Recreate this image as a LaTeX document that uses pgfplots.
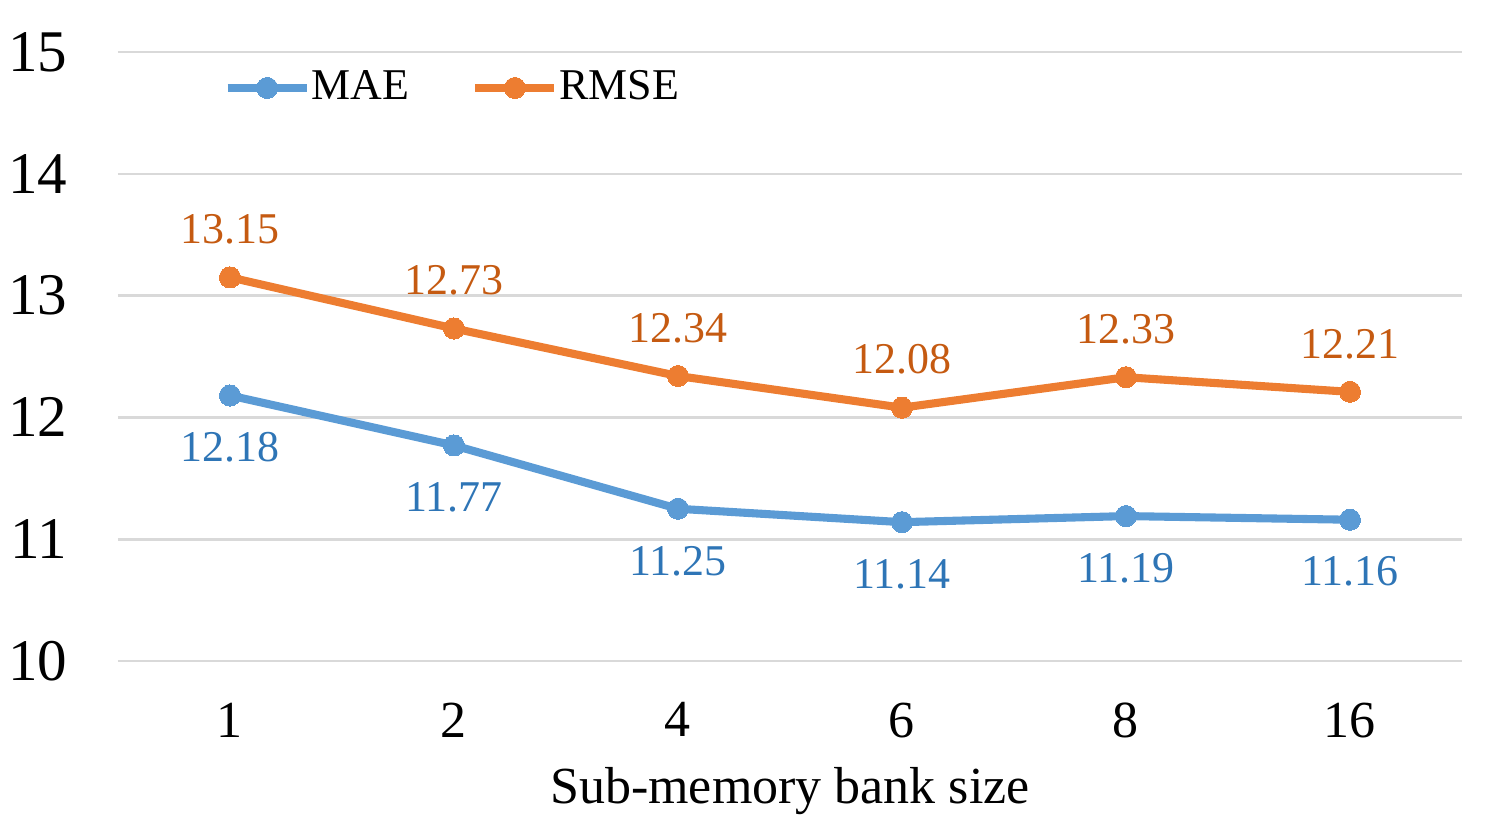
\documentclass[border=0pt]{standalone}
\usepackage{fontspec}
\setmainfont{Liberation Serif}
\usepackage{pgfplots}
\pgfplotsset{compat=1.18}

\definecolor{maeline}{HTML}{5B9BD5}
\definecolor{maetext}{HTML}{2E75B6}
\definecolor{rmseline}{HTML}{ED7D31}
\definecolor{rmsetext}{HTML}{C55A11}
\definecolor{gridgray}{HTML}{D9D9D9}

\begin{document}
\begin{tikzpicture}
\begin{axis}[
    scale only axis,
    width=13.44cm, height=6.09cm,
    xmin=-0.5, xmax=5.5,
    ymin=10, ymax=15,
    xtick={0,...,5},
    xticklabels={1,2,4,6,8,16},
    ytick={10,...,15},
    axis line style={draw=none},
    major tick length=0pt,
    ymajorgrids,
    grid style={color=gridgray, line width=0.75pt},
    /pgf/number format/assume math mode=true,
    yticklabel style={font=\fontsize{16.8}{20}\selectfont, anchor=east, inner sep=0pt, xshift=-0.50cm},
    xticklabel style={font=\fontsize{14.8}{18}\selectfont, anchor=north, inner sep=0pt, yshift=-0.41cm},
    legend columns=2,
    legend style={draw=none, fill=none, inner sep=0pt,
        at={(rel axis cs:0.0781,0.941)}, anchor=west,
        font=\fontsize{12.5}{15}\selectfont,
        nodes={inner sep=0pt},
        /tikz/every odd column/.append style={column sep=0.01cm},
        /tikz/every even column/.append style={column sep=0.62cm}},
    legend image code/.code={
        \draw[mark repeat=2, mark phase=2, #1] plot coordinates {(0cm,0cm) (0.395cm,0cm) (0.79cm,0cm)};},
    nodes near coords={\pgfmathprintnumber[fixed, precision=2, fixed zerofill]{\pgfplotspointmeta}},
    nodes near coords style={font=\fontsize{12.5}{15}\selectfont, inner sep=0pt},
    clip=false,
]
\addplot[color=maeline, line width=2.3pt, mark=*, mark size=3pt,
    mark options={fill=maeline, draw=maeline, line width=0pt},
    every node near coord/.append style={anchor=center, yshift=-0.52cm, text=maetext}]
    coordinates {(0,12.18) (1,11.77) (2,11.25) (3,11.14) (4,11.19) (5,11.16)};
\addlegendentry{MAE}
\addplot[color=rmseline, line width=2.3pt, mark=*, mark size=3pt,
    mark options={fill=rmseline, draw=rmseline, line width=0pt},
    every node near coord/.append style={anchor=center, yshift=0.48cm, text=rmsetext}]
    coordinates {(0,13.15) (1,12.73) (2,12.34) (3,12.08) (4,12.33) (5,12.21)};
\addlegendentry{RMSE}
\node[anchor=base, inner sep=0pt, font=\fontsize{14.8}{18}\selectfont]
    at (rel axis cs:0.5,0) [yshift=-1.42cm] {Sub-memory bank size};
\end{axis}
\pgfresetboundingbox
\path[use as bounding box] (-1.18,-1.72) rectangle (13.75,6.61);
\end{tikzpicture}
\end{document}
